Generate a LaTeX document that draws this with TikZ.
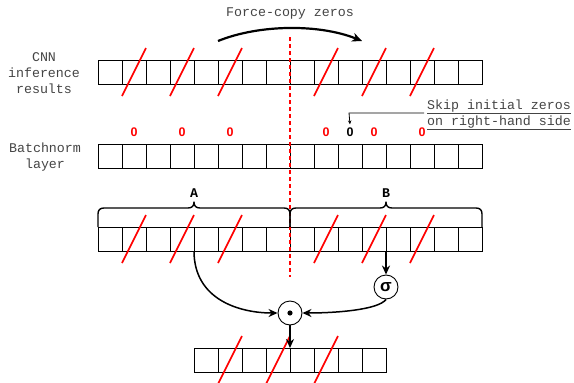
\documentclass[tikz,border=0pt]{standalone}
\usepackage{fontspec}
\setmainfont{Liberation Sans}
\newfontfamily\monof{Liberation Mono}
\usetikzlibrary{arrows.meta}
\definecolor{txtgray}{HTML}{444444}
\begin{document}
\begin{tikzpicture}[x=1pt,y=-1pt,
  cell/.style={draw=black,line width=0.8pt,minimum width=24pt,minimum height=24pt,inner sep=0pt,outer sep=0pt},
  slash/.style={draw=red,line width=1.6pt},
  lbl/.style={text=txtgray,font=\monof\fontsize{13.3}{16}\selectfont,align=center,inner sep=0pt},
  zero/.style={font=\bfseries\fontsize{12.5}{12.5}\selectfont,inner sep=0pt},
  conn/.style={draw=black,line width=1.5pt,-{Stealth[length=9pt,width=8pt]}},
  brace/.style={draw=black,line width=1.4pt,line join=round},
  circ/.style={draw=black,line width=0.9pt,circle,minimum size=24pt,inner sep=0pt}
]
\useasboundingbox (0,0) rectangle (574,383);
% rows of cells
\foreach \i in {0,...,15} {
  \node[cell] (r1c\i) at ({110+24*\i},72) {};
  \node[cell] (r2c\i) at ({110+24*\i},156) {};
  \node[cell] (r3c\i) at ({110+24*\i},239) {};
}
\foreach \i in {0,...,7} {
  \node[cell] (r4c\i) at ({206+24*\i},360) {};
}
% slashes
\foreach \i in {1,3,5,9,11,13} {
  \draw[slash] ([yshift=-12pt]r1c\i.south west) -- ([yshift=12pt]r1c\i.north east);
  \draw[slash] ([yshift=-12pt]r3c\i.south west) -- ([yshift=12pt]r3c\i.north east);
}
\foreach \i in {1,3,5} {
  \draw[slash] ([yshift=-12pt]r4c\i.south west) -- ([yshift=12pt]r4c\i.north east);
}
% labels
\node[lbl] (lcnn) at (44,73) {CNN\\inference\\results};
\node[lbl] (lbn) at (45,157) {Batchnorm\\layer};
\node[lbl] (lforce) at (290,13) {Force-copy zeros};
% zeros
\node[zero,text=red] (z1) at (134,132) {0};
\node[zero,text=red] (z2) at (182,132) {0};
\node[zero,text=red] (z3) at (230,132) {0};
\node[zero,text=red] (z4) at (326,132) {0};
\node[zero,text=black] (z5) at (350,132) {0};
\node[zero,text=red] (z6) at (374,132) {0};
\node[zero,text=red] (z7) at (422,132) {0};
% skip text
\node[lbl,align=left,anchor=west] (skip) at (427,115) {\underline{Skip initial zeros}\\\underline{on right-hand side}};
\coordinate (skipa) at (424,113);
\coordinate (skipb) at (349,113);
\draw[line width=0.8pt,-{Stealth[length=4pt,width=3.5pt]}] (skipa) -- (skipb) -- ([yshift=3pt]z5.north);
% force-copy arrow
\coordinate (fa) at (218,41);
\coordinate (fb) at (362,41);
\draw[line width=2.2pt,-{Stealth[length=10pt,width=9pt]}] (fa) .. controls (260,24) and (320,24) .. (fb);
% dashed red divider
\coordinate (da) at (290,37);
\coordinate (db) at (290,277);
\draw[red,line width=2pt,dash pattern=on 4pt off 3pt] (da) -- (db);
% braces
\draw[brace] (r3c0.north west) -- (98,214) .. controls (98,210) and (100,208) .. (104,208) -- (188,208)
  .. controls (192,208) and (194,206) .. (194,202) .. controls (194,206) and (196,208) .. (200,208) -- (284,208)
  .. controls (288,208) and (290,210) .. (290,214) -- (r3c7.north east);
\draw[brace] (r3c8.north west) -- (290,214) .. controls (290,210) and (292,208) .. (296,208) -- (380,208)
  .. controls (384,208) and (386,206) .. (386,202) .. controls (386,206) and (388,208) .. (392,208) -- (476,208)
  .. controls (480,208) and (482,210) .. (482,214) -- (r3c15.north east);
\node[font=\monof\bfseries\fontsize{13.3}{16}\selectfont,inner sep=0pt] (la) at (194,193) {A};
\node[font=\monof\bfseries\fontsize{13.3}{16}\selectfont,inner sep=0pt] (lb) at (386,193) {B};
% operators
\node[circ] (sig) at (386,287) {\fontsize{17}{17}\selectfont\bfseries σ};
\node[circ] (dot) at (290,313) {};
\fill[black] (dot.center) circle (2.6pt);
% connectors
\draw[conn] (r3c12.south west) -- (sig.north);
\draw[conn] (r3c4.south west) .. controls (194,300) and (240,313) .. (dot.west);
\draw[conn] (sig.south) .. controls (378,310) and (335,313) .. (dot.east);
\draw[conn] (dot.south) -- (r4c4.north west);
\end{tikzpicture}
\end{document}
